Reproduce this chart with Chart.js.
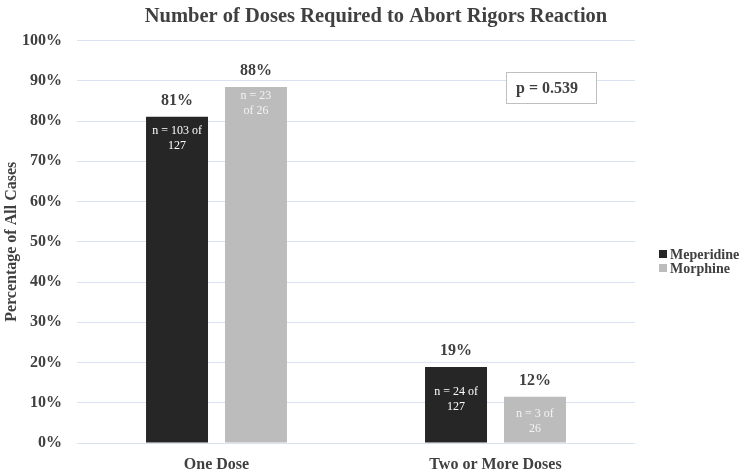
<!DOCTYPE html>
<html>
<head>
<meta charset="utf-8">
<script src="https://cdn.jsdelivr.net/npm/chart.js@4/dist/chart.umd.min.js"></script>
<style>
html,body{margin:0;padding:0;background:#fff;}
#wrap{width:752px;height:473px;position:relative;}
</style>
</head>
<body>
<div id="wrap"><canvas id="c" width="752" height="473"></canvas></div>
<script>
const categories = ["One Dose", "Two or More Doses"];
const seriesNames = ["Meperidine", "Morphine"];
const meperidine = [81.1, 18.9];
const morphine = [88.5, 11.5];
const meperidineLabels = ["81%", "19%"];
const morphineLabels = ["88%", "12%"];
const meperidineCounts = [["n = 103 of", "127"], ["n = 24 of", "127"]];
const morphineCounts = [["n = 23", "of 26"], ["n = 3 of", "26"]];
const yTicks = [0, 10, 20, 30, 40, 50, 60, 70, 80, 90, 100];
const pValueText = "p = 0.539";

const FONT = "'Liberation Serif', 'DejaVu Serif', serif";
const TEXT = "#404040";

const labelPlugin = {
  id: 'barLabels',
  afterDatasetsDraw(chart) {
    const ctx = chart.ctx;
    const tops = [meperidineLabels, morphineLabels];
    const inner = [meperidineCounts, morphineCounts];
    const offs = [[14, 25], [9, 17]];
    chart.data.datasets.forEach((ds, di) => {
      const meta = chart.getDatasetMeta(di);
      meta.data.forEach((bar, i) => {
        ctx.save();
        ctx.textAlign = 'center';
        ctx.textBaseline = 'middle';
        ctx.fillStyle = TEXT;
        ctx.font = "bold 16px " + FONT;
        ctx.fillText(tops[di][i], bar.x, bar.y - 16);
        ctx.fillStyle = di === 0 ? '#ffffff' : '#f4f4f4';
        ctx.font = "12px " + FONT;
        inner[di][i].forEach((ln, k) => {
          ctx.fillText(ln, bar.x, bar.y + offs[di][i] + k * 15);
        });
        ctx.restore();
      });
    });
    // p-value box
    ctx.save();
    const bx = 506, by = 72, bw = 90, bh = 31;
    ctx.fillStyle = '#fff';
    ctx.fillRect(bx, by, bw, bh);
    ctx.strokeStyle = '#bfbfbf';
    ctx.lineWidth = 1;
    ctx.strokeRect(bx + 0.5, by + 0.5, bw, bh);
    ctx.fillStyle = TEXT;
    ctx.font = "bold 16px " + FONT;
    ctx.textAlign = 'left';
    ctx.textBaseline = 'middle';
    ctx.fillText(pValueText, bx + 10, by + bh / 2 + 1);
    ctx.restore();
    // legend
    ctx.save();
    ctx.font = "bold 14px " + FONT;
    ctx.textAlign = 'left';
    ctx.textBaseline = 'middle';
    chart.data.datasets.forEach((ds, di) => {
      const ly = 254 + di * 14;
      ctx.fillStyle = ds.backgroundColor;
      ctx.fillRect(659, ly - 4, 8, 8);
      ctx.fillStyle = TEXT;
      ctx.fillText(ds.label, 670, ly + 1);
    });
    ctx.restore();
  }
};

new Chart(document.getElementById('c'), {
  type: 'bar',
  data: {
    labels: categories,
    datasets: [
      { label: seriesNames[0], data: meperidine, backgroundColor: '#262626' },
      { label: seriesNames[1], data: morphine, backgroundColor: '#bcbcbc' }
    ]
  },
  options: {
    responsive: false,
    animation: false,
    categoryPercentage: 0.566,
    barPercentage: 0.785,
    layout: { padding: { left: 0, right: 0, top: 0, bottom: 0 } },
    plugins: {
      title: {
        display: true,
        text: "Number of Doses Required to Abort Rigors Reaction",
        color: TEXT,
        font: { family: FONT, size: 20.5, weight: 'bold' },
        padding: { top: 4, bottom: 12 }
      },
      legend: { display: false },
      tooltip: { enabled: false }
    },
    scales: {
      x: {
        grid: { display: false, drawTicks: false },
        border: { display: false },
        ticks: { color: TEXT, font: { family: FONT, size: 16, weight: 'bold' }, padding: 12 },
        afterFit(axis) { axis.height = 30; }
      },
      y: {
        min: 0, max: 100,
        afterBuildTicks(axis) { axis.ticks = yTicks.map(v => ({ value: v })); },
        afterFit(axis) { axis.width = 77; },
        grid: { color: '#d9e2f0', lineWidth: 1, drawTicks: false },
        border: { display: false },
        ticks: {
          color: TEXT,
          font: { family: FONT, size: 16, weight: 'bold' },
          padding: 15,
          callback: v => v + '%'
        },
        title: {
          display: true,
          text: "Percentage of All Cases",
          color: TEXT,
          font: { family: FONT, size: 16, weight: 'bold' },
          padding: { top: 2, bottom: 0 }
        }
      },
      yRight: {
        position: 'right',
        display: true,
        min: 0, max: 1,
        grid: { display: false, drawTicks: false },
        border: { display: false },
        ticks: { display: false },
        afterFit(axis) { axis.width = 117; }
      }
    }
  },
  plugins: [labelPlugin]
});
</script>
</body>
</html>
